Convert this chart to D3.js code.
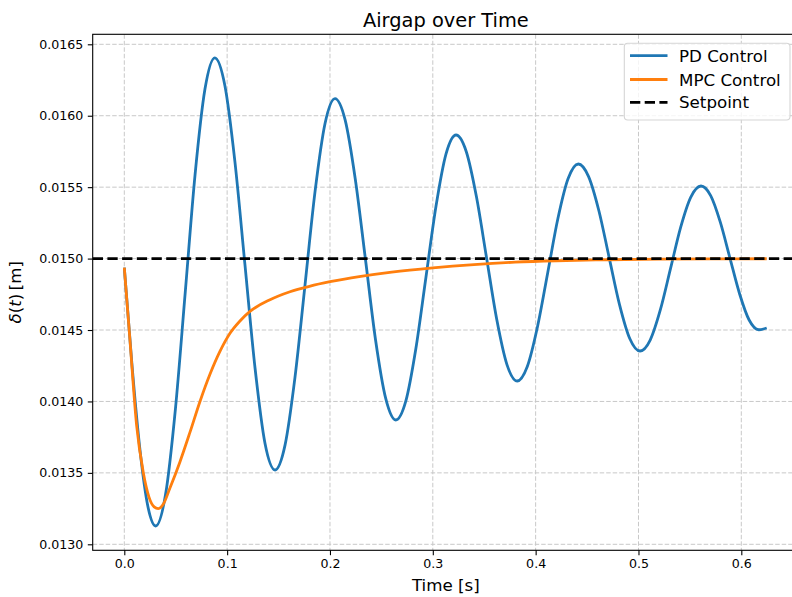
<!DOCTYPE html>
<html>
<head>
<meta charset="utf-8">
<script src="https://cdn.jsdelivr.net/npm/d3@7"></script>
<style>
  body { margin: 0; background: #fff; }
  svg { display: block; }
  text { font-family: "DejaVu Sans", sans-serif; fill: #000; }
</style>
</head>
<body>
<svg id="chart" width="792" height="597"></svg>
<script>
// Axis ticks
const timeTicks = [0.0, 0.1, 0.2, 0.3, 0.4, 0.5, 0.6];
const gapTicks = [0.0130, 0.0135, 0.0140, 0.0145, 0.0150, 0.0155, 0.0160, 0.0165];

// PD controller response: time [s] and airgap [m]
const pdTime = [0, 0.0076, 0.0153, 0.0229, 0.0305,
  0.0401, 0.0497, 0.0593, 0.0688, 0.0784, 0.0880,
  0.0978, 0.1075, 0.1173, 0.1271, 0.1368, 0.1466,
  0.1563, 0.1660, 0.1758, 0.1855, 0.1952, 0.2049,
  0.2148, 0.2246, 0.2345, 0.2443, 0.2542, 0.2640,
  0.2738, 0.2835, 0.2933, 0.3031, 0.3128, 0.3226,
  0.3325, 0.3424, 0.3523, 0.3622, 0.3721, 0.3820,
  0.3919, 0.4018, 0.4118, 0.4217, 0.4316, 0.4415,
  0.4515, 0.4615, 0.4715, 0.4815, 0.4915, 0.5015,
  0.5114, 0.5213, 0.5312, 0.5410, 0.5509, 0.5608,
  0.5702, 0.5795, 0.5889, 0.5983, 0.6076, 0.6170,
  0.6247];
const pdGap = [0.014936, 0.014244, 0.013657, 0.013266, 0.013128,
  0.013348, 0.013947, 0.014767, 0.015586, 0.016185, 0.016405,
  0.016211, 0.015682, 0.014959, 0.014236, 0.013707, 0.013520,
  0.013694, 0.014170, 0.014820, 0.015470, 0.015946, 0.016120,
  0.015969, 0.015557, 0.014995, 0.014432, 0.014021, 0.013870,
  0.014004, 0.014369, 0.014868, 0.015366, 0.015731, 0.015865,
  0.015750, 0.015434, 0.015004, 0.014573, 0.014258, 0.014143,
  0.014245, 0.014523, 0.014903, 0.015282, 0.015560, 0.015662,
  0.015574, 0.015335, 0.015007, 0.014680, 0.014441, 0.014353,
  0.014430, 0.014642, 0.014931, 0.015219, 0.015431, 0.015508,
  0.015441, 0.015257, 0.015005, 0.014754, 0.014570, 0.014502,
  0.014514];

// MPC controller response: time [s] and airgap [m]
const mpcTime = [0, 0.0055, 0.0120, 0.0185, 0.0240, 0.0290, 0.0330, 0.0380,
  0.0442, 0.0540, 0.0639, 0.0736, 0.0833, 0.0930, 0.1028, 0.1125, 0.1222,
  0.1417, 0.1611, 0.1800, 0.2000, 0.2300, 0.2600, 0.3000, 0.3400, 0.3800,
  0.4200, 0.4700, 0.5200, 0.5700, 0.6247];
const mpcGap = [0.014936, 0.014430, 0.013830, 0.013500, 0.013330, 0.013262,
  0.013250, 0.013282, 0.013390, 0.013575, 0.013785, 0.014000, 0.014190,
  0.014350, 0.014477, 0.014563, 0.014630, 0.014712, 0.014768, 0.014806,
  0.014838, 0.014875, 0.014905, 0.014935, 0.014958, 0.014975, 0.014985,
  0.014992, 0.014996, 0.014998, 0.014999];

// Reference airgap
const setpoint = 0.015;

const seriesNames = ["PD Control", "MPC Control", "Setpoint"];
const seriesColors = ["#1f77b4", "#ff7f0e", "#000000"];

const svg = d3.select("#chart");
const plotLeft = 92.7, plotRight = 799, plotTop = 34.3, plotBottom = 550.3;

const x = d3.scaleLinear().domain([-0.03073, 0.6561]).range([plotLeft, plotRight]);
const y = d3.scaleLinear().domain([0.012958, 0.01657]).range([plotBottom, plotTop]);

svg.append("defs").append("clipPath").attr("id", "plotClip")
  .append("rect").attr("x", plotLeft).attr("y", plotTop)
  .attr("width", plotRight - plotLeft).attr("height", plotBottom - plotTop);

// Grid
const grid = svg.append("g");
grid.selectAll("line.v").data(timeTicks).join("line").attr("class", "v")
  .attr("x1", d => x(d)).attr("x2", d => x(d))
  .attr("y1", plotTop).attr("y2", plotBottom)
  .attr("stroke", "#c8c8c8").attr("stroke-width", 1)
  .attr("stroke-dasharray", "4.5,2");
grid.selectAll("line.h").data(gapTicks).join("line").attr("class", "h")
  .attr("x1", plotLeft).attr("x2", plotRight)
  .attr("y1", d => y(d)).attr("y2", d => y(d))
  .attr("stroke", "#c8c8c8").attr("stroke-width", 1)
  .attr("stroke-dasharray", "4.5,2");

// Series
const line = d3.line().x(d => x(d[0])).y(d => y(d[1])).curve(d3.curveMonotoneX);
const plot = svg.append("g").attr("clip-path", "url(#plotClip)");

plot.append("path")
  .datum(pdTime.map((t, i) => [t, pdGap[i]]))
  .attr("d", line).attr("fill", "none")
  .attr("stroke", seriesColors[0]).attr("stroke-width", 2.8)
  .attr("stroke-linejoin", "round").attr("stroke-linecap", "butt");

plot.append("path")
  .datum(mpcTime.map((t, i) => [t, mpcGap[i]]))
  .attr("d", line).attr("fill", "none")
  .attr("stroke", seriesColors[1]).attr("stroke-width", 2.8)
  .attr("stroke-linejoin", "round").attr("stroke-linecap", "butt");

plot.append("line")
  .attr("x1", plotLeft).attr("x2", plotRight)
  .attr("y1", y(setpoint)).attr("y2", y(setpoint))
  .attr("stroke", seriesColors[2]).attr("stroke-width", 2.8)
  .attr("stroke-dasharray", "10.3,4.4");

// Axes
const xAxis = d3.axisBottom(x).tickValues(timeTicks).tickFormat(d3.format(".1f"))
  .tickSizeOuter(0).tickSize(4.9).tickPadding(3.5);
const gx = svg.append("g").attr("transform", `translate(0,${plotBottom})`).call(xAxis);
gx.select(".domain").remove();
gx.selectAll("line").attr("stroke", "#000").attr("stroke-width", 1.1);
gx.selectAll("text").attr("font-size", "12.6px").attr("font-family", "DejaVu Sans").attr("fill", "#000");

const yAxis = d3.axisLeft(y).tickValues(gapTicks).tickFormat(d3.format(".4f"))
  .tickSizeOuter(0).tickSize(4.9).tickPadding(4.5);
const gy = svg.append("g").attr("transform", `translate(${plotLeft},0)`).call(yAxis);
gy.select(".domain").remove();
gy.selectAll("line").attr("stroke", "#000").attr("stroke-width", 1.1);
gy.selectAll("text").attr("font-size", "12.6px").attr("font-family", "DejaVu Sans").attr("fill", "#000");

// Spines
svg.append("rect").attr("x", plotLeft).attr("y", plotTop)
  .attr("width", plotRight - plotLeft).attr("height", plotBottom - plotTop)
  .attr("fill", "none").attr("stroke", "#000").attr("stroke-width", 1.1);

// Title and axis labels
svg.append("text").attr("x", (plotLeft + plotRight) / 2).attr("y", 26.5)
  .attr("text-anchor", "middle").attr("font-size", "19.4px").text("Airgap over Time");

svg.append("text").attr("x", (plotLeft + plotRight) / 2).attr("y", 591)
  .attr("text-anchor", "middle").attr("font-size", "16.7px").text("Time [s]");

const ylab = svg.append("text")
  .attr("transform", `translate(20.5,${(plotTop + plotBottom) / 2}) rotate(-90)`)
  .attr("text-anchor", "middle").attr("font-size", "16.7px");
ylab.append("tspan").attr("font-style", "italic").text("δ");
ylab.append("tspan").text("(");
ylab.append("tspan").attr("font-style", "italic").text("t");
ylab.append("tspan").text(")\u2009[m]");

// Legend
const legend = svg.append("g");
legend.append("rect").attr("x", 624.3).attr("y", 43.3)
  .attr("width", 165.7).attr("height", 76.7).attr("rx", 3.5)
  .attr("fill", "#fff").attr("fill-opacity", 0.8)
  .attr("stroke", "#d5d5d5").attr("stroke-width", 1.1);
const rowY = [55.7, 79.5, 102.3];
seriesNames.forEach((name, i) => {
  const ln = legend.append("line")
    .attr("x1", 630).attr("x2", 667.5)
    .attr("y1", rowY[i]).attr("y2", rowY[i])
    .attr("stroke", seriesColors[i]).attr("stroke-width", 2.8);
  if (i === 2) ln.attr("stroke-dasharray", "10.3,4.4");
  legend.append("text").attr("x", 679).attr("y", rowY[i] + 6)
    .attr("font-size", "16.7px").text(name);
});
</script>
</body>
</html>
